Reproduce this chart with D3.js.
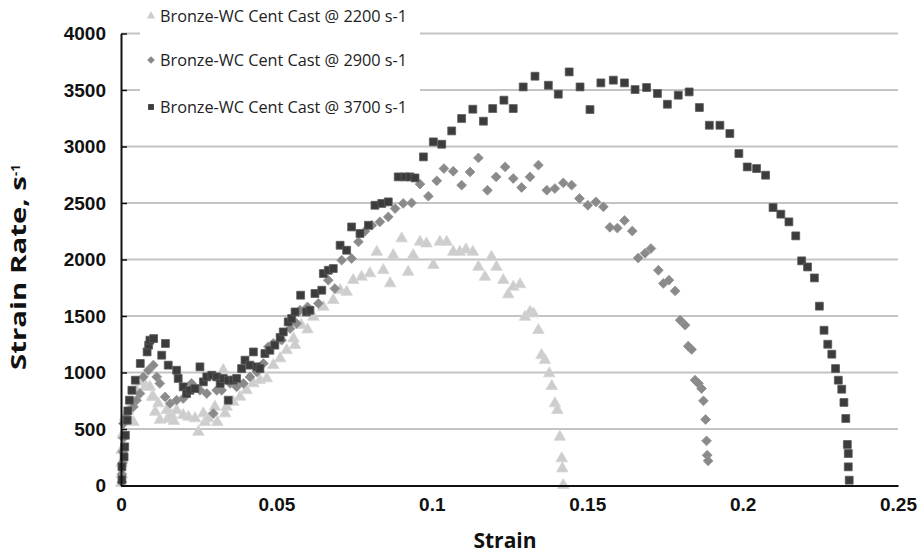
<!DOCTYPE html>
<html>
<head>
  <title>Strain rate vs strain</title>
  <style type="text/css">
    body { margin: 0; background: #fff; }
    svg { display: block; }
  </style>
</head>
<body>
<div id="chart"></div>
<script src="https://d3js.org/d3.v7.min.js"></script>
<script type="text/javascript">
var width = 919, height = 554;

var seriesNames = ["Bronze-WC Cent Cast @ 2200 s-1", "Bronze-WC Cent Cast @ 2900 s-1", "Bronze-WC Cent Cast @ 3700 s-1"];
var xTicks = [0, 0.05, 0.1, 0.15, 0.2, 0.25];
var xTickLabels = ["0", "0.05", "0.1", "0.15", "0.2", "0.25"];
var yTicks = [0, 500, 1000, 1500, 2000, 2500, 3000, 3500, 4000];

// [strain, strain rate]
var s2200 = [[0.0001,20],[0.0002,100],[0.0002,200],[0.0002,312],[0.0005,450],[0.0013,607],[0.0023,666],[0.004,560],[0.005,843],
  [0.0072,917],[0.0078,873],[0.0093,873],[0.01,784],[0.0104,784],[0.011,651],[0.012,726],[0.0125,580],[0.0147,666],[0.015,590],
  [0.0163,622],[0.017,570],[0.0179,666],[0.02,622],[0.0217,607],[0.0238,593],[0.0249,474],[0.0265,637],[0.027,560],[0.0281,593],
  [0.0302,696],[0.031,560],[0.0329,1020],[0.0335,637],[0.034,696],[0.0361,740],[0.0383,784],[0.0404,843],[0.0426,903],[0.0447,932],
  [0.0469,947],[0.049,1065],[0.0512,1124],[0.0533,1197],[0.0555,1300],[0.056,1242],[0.058,1420],[0.06,1380],[0.0619,1492],[0.0651,1580],
  [0.0683,1640],[0.0705,1728],[0.0726,1713],[0.0747,1817],[0.0774,1846],[0.0801,1876],[0.0823,2067],[0.0844,1905],[0.0866,1788],
  [0.0876,2038],[0.0903,2186],[0.0924,1890],[0.094,2038],[0.0962,2156],[0.0983,2141],[0.1005,1950],[0.1026,2156],[0.1048,2156],
  [0.1069,2067],[0.109,2067],[0.111,2088],[0.1132,2067],[0.115,1934],[0.1171,1846],[0.1192,2023],[0.1208,1934],[0.123,1817],
  [0.1246,1690],[0.1262,1757],[0.1284,1780],[0.13,1492],[0.1316,1536],[0.1327,1522],[0.1343,1374],[0.1353,1153],[0.1364,1109],
  [0.1378,991],[0.1386,879],[0.1396,726],[0.1404,666],[0.1412,430],[0.1418,239],[0.142,150],[0.1423,3]];

var s2900 = [[0.0003,30],[0.0003,100],[0.0005,200],[0.0006,300],[0.0008,420],[0.0008,549],[0.0018,607],[0.004,696],[0.005,755],
  [0.0061,814],[0.0072,961],[0.0088,1020],[0.0104,1065],[0.0115,961],[0.0125,903],[0.0142,784],[0.0158,726],[0.0179,755],[0.02,770],
  [0.0227,903],[0.0254,843],[0.0276,814],[0.0297,637],[0.0308,843],[0.0324,843],[0.0351,903],[0.0372,873],[0.0394,903],[0.0415,961],
  [0.0437,1005],[0.0458,1080],[0.0474,1227],[0.049,1257],[0.0517,1286],[0.0544,1389],[0.0565,1434],[0.0576,1551],[0.06,1580],
  [0.0635,1611],[0.0667,1817],[0.0688,1743],[0.071,1994],[0.0742,2009],[0.0764,2156],[0.0785,2250],[0.0807,2303],[0.0833,2333],
  [0.086,2377],[0.0882,2451],[0.0908,2496],[0.0935,2501],[0.0962,2667],[0.0989,2560],[0.1016,2696],[0.1039,2805],[0.1069,2781],
  [0.1096,2658],[0.1123,2775],[0.115,2899],[0.1179,2613],[0.1207,2731],[0.1236,2819],[0.1262,2717],[0.1289,2637],[0.1316,2731],
  [0.1343,2835],[0.137,2613],[0.1396,2628],[0.1423,2678],[0.145,2658],[0.1475,2540],[0.1502,2480],[0.1528,2510],[0.1552,2466],
  [0.1573,2285],[0.1597,2278],[0.162,2345],[0.1645,2252],[0.1664,2013],[0.1686,2055],[0.1705,2097],[0.1729,1905],[0.1745,1788],
  [0.1763,1817],[0.1783,1722],[0.1799,1463],[0.1815,1419],[0.1825,1233],[0.1836,1204],[0.1847,932],[0.1858,903],[0.1868,858],
  [0.1874,749],[0.1881,584],[0.1884,395],[0.1886,268],[0.1889,218]];

var s3700 = [[0.0003,50],[0.0003,165],[0.001,253],[0.0012,342],[0.0014,445],[0.002,578],[0.0022,660],[0.0027,755],[0.0035,843],
  [0.0046,932],[0.0062,1080],[0.0084,1182],[0.0089,1242],[0.0093,1286],[0.0105,1300],[0.0131,1153],[0.0143,1257],[0.0152,1065],
  [0.0179,1020],[0.0184,947],[0.02,873],[0.0211,814],[0.0222,843],[0.0238,858],[0.0254,1050],[0.0265,917],[0.0276,961],[0.0292,976],
  [0.0308,961],[0.0319,903],[0.0329,947],[0.0345,755],[0.0345,932],[0.0361,932],[0.0372,947],[0.0388,1035],[0.0399,1109],[0.0415,1065],
  [0.0426,1182],[0.0437,1050],[0.0447,1035],[0.0463,1168],[0.0479,1197],[0.0495,1242],[0.0512,1310],[0.0522,1359],[0.0538,1448],
  [0.0549,1478],[0.056,1536],[0.0578,1684],[0.0597,1536],[0.0608,1551],[0.0624,1699],[0.0646,1728],[0.0651,1876],[0.0667,1905],
  [0.0683,1920],[0.0705,2126],[0.0726,2082],[0.0742,2288],[0.0769,2230],[0.0796,2303],[0.0817,2480],[0.0839,2496],[0.086,2510],
  [0.0892,2731],[0.0914,2731],[0.093,2731],[0.0946,2722],[0.0973,2908],[0.1005,3041],[0.1032,3020],[0.1064,3138],[0.1096,3248],
  [0.1132,3330],[0.1166,3224],[0.1196,3336],[0.1232,3410],[0.1262,3336],[0.1294,3527],[0.1332,3622],[0.1375,3542],[0.1407,3463],
  [0.1442,3660],[0.1477,3527],[0.1509,3327],[0.1544,3563],[0.1584,3587],[0.162,3563],[0.1654,3504],[0.1691,3522],[0.1726,3469],
  [0.1758,3374],[0.1793,3454],[0.1828,3483],[0.1861,3345],[0.1893,3188],[0.1927,3188],[0.1959,3115],[0.1988,2938],[0.2015,2819],
  [0.2045,2805],[0.2074,2746],[0.2098,2460],[0.2123,2401],[0.2149,2333],[0.2171,2209],[0.219,1988],[0.2209,1934],[0.2231,1837],
  [0.2247,1587],[0.2262,1374],[0.2274,1250],[0.2287,1162],[0.2299,1035],[0.2308,932],[0.2319,852],[0.2326,735],[0.2332,593],
  [0.2337,363],[0.234,283],[0.234,165],[0.2343,47]];

var x = d3.scaleLinear().domain([0, 0.25]).range([121, 898]);
var y = d3.scaleLinear().domain([0, 4000]).range([485.5, 33.5]);

var svg = d3.select("#chart").append("svg")
  .attr("width", width)
  .attr("height", height)
  .style("font-family", "'Open Sans', sans-serif");

// gridlines
svg.append("g")
  .selectAll("line")
  .data(yTicks.slice(1))
  .enter().append("line")
  .attr("x1", x(0)).attr("x2", x(0.25))
  .attr("y1", d => y(d)).attr("y2", d => y(d))
  .attr("stroke", "#c4c4c4")
  .attr("stroke-width", 2);

// legend backing hides gridlines behind it
svg.append("rect")
  .attr("x", 140).attr("y", 0)
  .attr("width", 280).attr("height", 118)
  .attr("fill", "#fff");

var markers = [
  {data: s2200, shape: d3.symbolTriangle, size: 58, fill: "#cdcdcd", stroke: "#d6d6d6", rot: 0},
  {data: s2900, shape: d3.symbolSquare, size: 48, fill: "#8a8a8a", stroke: "#949494", rot: 45},
  {data: s3700, shape: d3.symbolSquare, size: 62, fill: "#3c3c3c", stroke: "#5a5a5a", rot: 0}
];

markers.forEach(m => {
  svg.append("g")
    .selectAll("path")
    .data(m.data)
    .enter().append("path")
    .attr("d", d3.symbol().type(m.shape).size(m.size))
    .attr("transform", d => `translate(${x(d[0])},${y(d[1])}) rotate(${m.rot})`)
    .attr("fill", m.fill)
    .attr("stroke", m.stroke)
    .attr("stroke-width", 0.8);
});

// axes
var yAxis = svg.append("g")
  .attr("transform", `translate(${x(0)},0)`)
  .call(d3.axisLeft(y).tickValues(yTicks).tickFormat(d3.format("d")).tickSize(-6).tickPadding(15).tickSizeOuter(0));
yAxis.select(".domain").attr("stroke", "#111").attr("stroke-width", 2);
yAxis.selectAll(".tick line").attr("stroke", "#111").attr("stroke-width", 1.5);
yAxis.selectAll("text")
  .style("font-size", "19px").style("font-weight", "bold").attr("fill", "#111").attr("dy", "0.34em");

var xAxis = svg.append("g")
  .attr("transform", `translate(0,${y(0)})`)
  .call(d3.axisBottom(x).tickValues(xTicks).tickFormat((d, i) => xTickLabels[i]).tickSize(0).tickPadding(12).tickSizeOuter(0));
xAxis.select(".domain").attr("stroke", "#111").attr("stroke-width", 2);
xAxis.selectAll("text")
  .style("font-size", "19px").style("font-weight", "bold").attr("fill", "#111");

svg.append("text")
  .attr("x", 505).attr("y", 548)
  .attr("text-anchor", "middle")
  .style("font-size", "21px").style("font-weight", "bold").attr("fill", "#111")
  .text("Strain");

var yTitle = svg.append("text")
  .attr("transform", "translate(26,370) rotate(-90)")
  .attr("text-anchor", "start")
  .style("font-size", "21px").style("font-weight", "bold").attr("fill", "#111");
yTitle.append("tspan").attr("textLength", 194).attr("lengthAdjust", "spacingAndGlyphs").text("Strain Rate, s");
yTitle.append("tspan").attr("dy", "-0.45em").style("font-size", "13px").text("-1");

// legend
var legend = svg.append("g");
var legendY = [16, 60, 107];
seriesNames.forEach((name, i) => {
  var m = markers[i];
  legend.append("path")
    .attr("d", d3.symbol().type(m.shape).size(i === 2 ? 34 : 30))
    .attr("transform", `translate(151,${legendY[i]}) rotate(${m.rot})`)
    .attr("fill", m.fill);
  legend.append("text")
    .attr("x", 160).attr("y", legendY[i])
    .attr("dy", "0.35em")
    .attr("textLength", 247)
    .attr("lengthAdjust", "spacingAndGlyphs")
    .style("font-size", "16px").attr("fill", "#222")
    .text(name);
});
</script>
</body>
</html>
